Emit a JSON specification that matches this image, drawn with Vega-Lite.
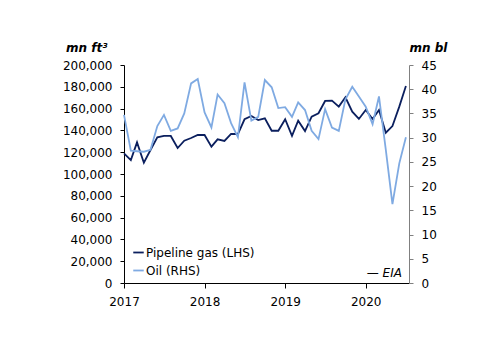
{
  "$schema": "https://vega.github.io/schema/vega-lite/v6.json",
  "autosize": {"type": "none"},
  "padding": {"left": 124, "top": 65, "right": 91, "bottom": 70},
  "width": 285,
  "height": 218,
  "background": "white",
  "config": {
    "font": "DejaVu Sans",
    "view": {"stroke": null},
    "axis": {"grid": false, "labelFont": "DejaVu Sans", "labelFontSize": 12, "labelColor": "#000000", "titleFont": "DejaVu Sans", "labelOverlap": false}
  },
  "datasets": {
    "series": [
      {"date": "2017-01-01", "gas": 119000, "oil": 34.7},
      {"date": "2017-02-01", "gas": 112800, "oil": 27.3},
      {"date": "2017-03-01", "gas": 129000, "oil": 27.2},
      {"date": "2017-04-01", "gas": 110400, "oil": 27.1},
      {"date": "2017-05-01", "gas": 122000, "oil": 27.5},
      {"date": "2017-06-01", "gas": 133600, "oil": 32.4},
      {"date": "2017-07-01", "gas": 134900, "oil": 34.7},
      {"date": "2017-08-01", "gas": 134900, "oil": 31.4},
      {"date": "2017-09-01", "gas": 123800, "oil": 31.9},
      {"date": "2017-10-01", "gas": 130600, "oil": 35.0},
      {"date": "2017-11-01", "gas": 133000, "oil": 41.2},
      {"date": "2017-12-01", "gas": 135800, "oil": 42.1},
      {"date": "2018-01-01", "gas": 135800, "oil": 35.2},
      {"date": "2018-02-01", "gas": 125100, "oil": 32.1},
      {"date": "2018-03-01", "gas": 131800, "oil": 38.9},
      {"date": "2018-04-01", "gas": 130300, "oil": 37.1},
      {"date": "2018-05-01", "gas": 136700, "oil": 33.0},
      {"date": "2018-06-01", "gas": 136700, "oil": 30.1},
      {"date": "2018-07-01", "gas": 150200, "oil": 41.4},
      {"date": "2018-08-01", "gas": 153200, "oil": 33.5},
      {"date": "2018-09-01", "gas": 149500, "oil": 34.3},
      {"date": "2018-10-01", "gas": 151100, "oil": 41.9},
      {"date": "2018-11-01", "gas": 139700, "oil": 40.4},
      {"date": "2018-12-01", "gas": 139700, "oil": 36.1},
      {"date": "2019-01-01", "gas": 150200, "oil": 36.3},
      {"date": "2019-02-01", "gas": 134900, "oil": 34.3},
      {"date": "2019-03-01", "gas": 148900, "oil": 37.3},
      {"date": "2019-04-01", "gas": 139400, "oil": 35.7},
      {"date": "2019-05-01", "gas": 152600, "oil": 31.4},
      {"date": "2019-06-01", "gas": 155700, "oil": 29.7},
      {"date": "2019-07-01", "gas": 167000, "oil": 35.9},
      {"date": "2019-08-01", "gas": 167300, "oil": 32.1},
      {"date": "2019-09-01", "gas": 161800, "oil": 31.4},
      {"date": "2019-10-01", "gas": 170400, "oil": 37.9},
      {"date": "2019-11-01", "gas": 157200, "oil": 40.5},
      {"date": "2019-12-01", "gas": 150500, "oil": 38.5},
      {"date": "2020-01-01", "gas": 158700, "oil": 36.4},
      {"date": "2020-02-01", "gas": 150500, "oil": 32.8},
      {"date": "2020-03-01", "gas": 158700, "oil": 38.5},
      {"date": "2020-04-01", "gas": 137900, "oil": 27.5},
      {"date": "2020-05-01", "gas": 144000, "oil": 16.3},
      {"date": "2020-06-01", "gas": 161800, "oil": 24.7},
      {"date": "2020-07-01", "gas": 180700, "oil": 30.1}
    ],
    "note": [
      {"date": "2020-06-13", "pos": 9500, "label": "— EIA"}
    ]
  },
  "layer": [
    {
      "data": {"name": "series"},
      "mark": {"type": "line", "strokeWidth": 1.8},
      "encoding": {
        "x": {
          "field": "date", "type": "temporal",
          "scale": {"domain": ["2017-01-01", "2020-07-15"]},
          "axis": {
            "title": null, "format": "%Y", "tickCount": {"interval": "year", "step": 1},
            "domainColor": "#000000", "tickColor": "#000000", "tickSize": 5, "labelPadding": 8,
            "labelFlush": false, "labelOverlap": false
          }
        },
        "y": {
          "field": "gas", "type": "quantitative",
          "scale": {"domain": [0, 200000], "nice": false},
          "axis": {
            "title": "mn ft³", "titleAngle": 0, "titleAlign": "right", "titleBaseline": "middle",
            "titleX": -17, "titleY": -18, "titleFontStyle": "italic", "titleFontWeight": "bold", "titleFontSize": 12, "titleColor": "#000000",
            "values": [0, 20000, 40000, 60000, 80000, 100000, 120000, 140000, 160000, 180000, 200000],
            "format": ",d", "domainColor": "#000000", "tickColor": "#000000", "tickSize": 4, "labelPadding": 8
          }
        },
        "color": {
          "datum": "Pipeline gas (LHS)",
          "scale": {"domain": ["Pipeline gas (LHS)", "Oil (RHS)"], "range": ["#0b1f5e", "#7faae2"]},
          "legend": {
            "title": null, "orient": "none", "legendX": 8, "legendY": 181,
            "symbolType": "stroke", "symbolSize": 110, "symbolStrokeWidth": 1.8,
            "labelFontSize": 12, "labelColor": "#000000", "labelFont": "DejaVu Sans",
            "rowPadding": 5, "labelOffset": 1
          }
        }
      }
    },
    {
      "data": {"name": "series"},
      "mark": {"type": "line", "strokeWidth": 1.8},
      "encoding": {
        "x": {"field": "date", "type": "temporal"},
        "y": {
          "field": "oil", "type": "quantitative",
          "scale": {"domain": [0, 45], "nice": false},
          "axis": {
            "orient": "right",
            "title": "mn bl", "titleAngle": 0, "titleAlign": "left", "titleBaseline": "middle",
            "titleX": 0, "titleY": -18, "titleFontStyle": "italic", "titleFontWeight": "bold", "titleFontSize": 12, "titleColor": "#000000",
            "values": [0, 5, 10, 15, 20, 25, 30, 35, 40, 45],
            "domainColor": "#808080", "tickColor": "#808080", "tickSize": 4, "labelPadding": 8
          }
        },
        "color": {"datum": "Oil (RHS)"}
      }
    },
    {
      "data": {"name": "note"},
      "mark": {"type": "text", "align": "right", "baseline": "middle", "fontStyle": "italic", "fontSize": 12, "color": "#000000"},
      "encoding": {
        "x": {"field": "date", "type": "temporal"},
        "y": {"field": "pos", "type": "quantitative", "scale": {"domain": [0, 200000], "nice": false}, "axis": null},
        "text": {"field": "label"}
      }
    }
  ],
  "resolve": {"scale": {"y": "independent"}}
}
